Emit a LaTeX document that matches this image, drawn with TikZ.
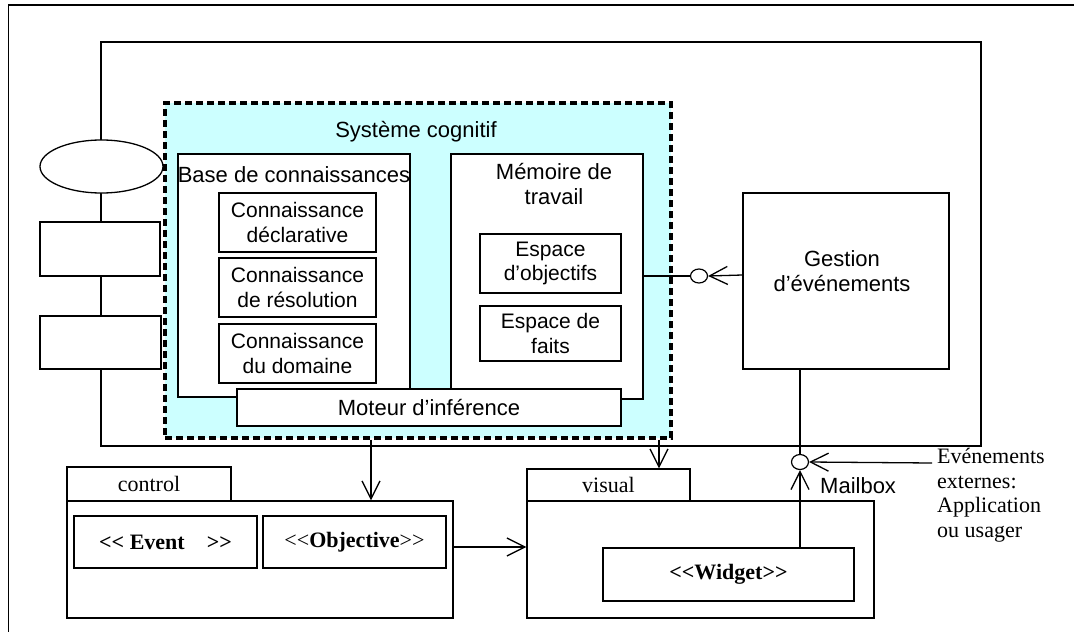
\documentclass[tikz,border=0pt]{standalone}
\usepackage{fontspec}
\setmainfont{Liberation Serif}
\setsansfont{Liberation Sans}
\usetikzlibrary{arrows.meta,shapes.geometric,calc}
\definecolor{cogcyan}{HTML}{CCFFFF}
\newcommand{\bigsans}{\sffamily\fontsize{22}{25}\selectfont}
\newcommand{\midsans}{\sffamily\fontsize{21}{24.5}\selectfont}
\newcommand{\bigser}{\rmfamily\fontsize{22}{24.7}\selectfont}
\newcommand{\lguil}{<{}<}
\newcommand{\rguil}{>{}>}
\tikzset{
  box/.style={draw, fill=white, line width=1.3pt, inner sep=0pt, align=center},
  lbl/.style={inner sep=0pt, align=center},
  conn/.style={line width=1.3pt},
  arr/.style={line width=1.3pt, -{Straight Barb[length=18pt,width=18pt,line width=1.3pt]}},
  ball/.style={draw, fill=white, ellipse, line width=1.2pt, inner sep=0pt},
  bs/.style={font=\bigsans},
  ms/.style={font=\midsans},
  sr/.style={font=\bigser},
}
\begin{document}
\begin{tikzpicture}[x=1pt,y=-1pt]
\useasboundingbox (0,0) rectangle (1074,632);
% outer frame (only left and top visible)
\draw[line width=1.4pt] (8.5,632) -- (8.5,5) -- (1074,5);
% big component rectangle
\node[box, minimum width=880, minimum height=404] (big) at (541,244) {};
\node[box, ellipse, minimum width=123, minimum height=53] (ell) at (101.5,166.5) {};
\node[box, minimum width=120, minimum height=54] (r1) at (100,249) {};
\node[box, minimum width=121, minimum height=53] (r2) at (100.5,342.5) {};
% cognitive system
\node[draw, fill=cogcyan, line width=3.2pt, dash pattern=on 7pt off 4pt, inner sep=0pt,
      minimum width=506, minimum height=335] (cog) at (418,270.5) {};
\node[lbl, bs, anchor=base] (cogt) at (416,137) {Système cognitif};
\node[box, minimum width=232, minimum height=243] (base) at (294,275.5) {};
\node[lbl, bs, anchor=base] (baset) at (294,182) {Base de connaissances};
\node[box, ms, minimum width=157, minimum height=59] (cd) at (297.5,222.5) {Connaissance\\ déclarative};
\node[box, ms, minimum width=157, minimum height=59] (cr) at (297.5,287.5) {Connaissance\\ de résolution};
\node[box, ms, minimum width=157, minimum height=59] (cdom) at (297.5,353.5) {Connaissance\\ du domaine};
\node[box, minimum width=192, minimum height=245] (mem) at (547,276.5) {};
\node[lbl, bs, anchor=north] (memt) at (554,163) {Mémoire de\\ travail};
\node[box, ms, minimum width=141, minimum height=59] (eo) at (550.5,263.5) {Espace\\ d’objectifs};
\node[box, ms, minimum width=141, minimum height=55] (ef) at (550.5,333.5) {Espace de\\ faits};
\node[box, bs, minimum width=384, minimum height=37] (mot) at (429,407.5) {Moteur d’inférence};
% event management
\node[box, minimum width=206, minimum height=176] (gest) at (846,281) {};
\node[lbl, bs] (gestt) at (842,271) {Gestion\\ d’événements};
\node[ball, minimum width=17, minimum height=14] (ball1) at (699,276) {};
\draw[conn] (mem.east |- ball1.west) -- (ball1.west);
\draw[arr] (gest.west |- 0,275) -- (ball1.east);
% packages
\node[box, sr, minimum width=164, minimum height=34] (ctab) at (149,484) {control};
\node[box, minimum width=386, minimum height=117] (cbody) at (260,559.5) {};
\node[box, sr, minimum width=183, minimum height=52] (ev) at (165.5,542) {\textbf{\lguil\ Event\quad\rguil}};
\node[box, sr, minimum width=183, minimum height=52] (obj) at (354.5,542) {\lguil\textbf{Objective}\rguil};
\node[box, sr, minimum width=163, minimum height=32] (vtab) at (608.5,485) {visual};
\node[box, minimum width=347, minimum height=117] (vbody) at (700.5,559.5) {};
\node[box, sr, minimum width=251, minimum height=53] (wid) at (728.5,574.5) {\textbf{\lguil Widget\rguil}};
% mailbox
\node[ball, minimum width=17, minimum height=15] (mbox) at (800,462) {};
\node[lbl, bs, anchor=base west] (mboxt) at (820,493) {Mailbox};
\node[lbl, sr, anchor=north west, align=left] (extt) at (937,448) {Evénements\\ externes:\\ Application\\ ou usager};
\coordinate (extc) at (932,463);
% connectors
\draw[conn] (gest.south -| mbox.north) -- (mbox.north);
\draw[arr] (wid.north -| mbox.south) -- (mbox.south);
\draw[arr] (extc) -- (mbox.east);
\draw[arr] ([xshift=-47pt]cog.south) -- ([xshift=-47pt]cog.south |- cbody.north);
\draw[arr] ([xshift=241pt]cog.south) -- ([xshift=241pt]cog.south |- vtab.north);
\draw[arr] (cbody.east |- 0,547) -- (vbody.west |- 0,547);
\end{tikzpicture}
\end{document}
